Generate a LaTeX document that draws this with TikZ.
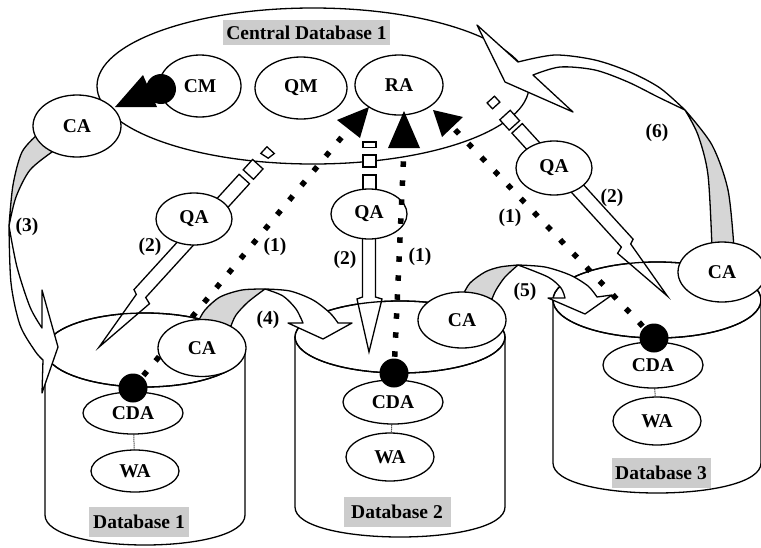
\documentclass[tikz,border=0pt]{standalone}
\usepackage{fontspec}
\setmainfont{Liberation Serif}
\usetikzlibrary{shapes.geometric}
\definecolor{labelgray}{RGB}{204,204,204}
\definecolor{bandgray}{RGB}{214,214,214}
\newcommand\bfnt{\fontsize{19.5}{21}\selectfont\bfseries}
\begin{document}
\begin{tikzpicture}[x=1pt,y=-1pt,
  ov/.style={draw, ellipse, fill=white, line width=1.3pt, inner sep=0pt, font=\bfnt},
  dblbl/.style={fill=labelgray, inner sep=0pt, minimum height=30pt, font=\bfnt},
  num/.style={font=\bfnt, inner sep=0pt},
  ln/.style={line width=1.3pt},
  hollow/.style={draw, fill=white, line width=1.3pt, line join=miter},
  band/.style={draw, fill=white, line width=1.3pt, line join=round},
  bandback/.style={draw, fill=bandgray, line width=1.3pt, line join=round},
  dotline/.style={line width=5.5pt, dash pattern=on 0.01pt off 19pt, line cap=rect},
  link/.style={line width=1pt, densely dotted}]

\useasboundingbox (0,0) rectangle (761,547);

% ---------- central database ----------
\node[ov, minimum width=432pt, minimum height=156pt] (cdb) at (313,86) {};
\node[dblbl, minimum width=167pt, minimum height=25pt] (cdbl) at (306.5,32.5) {Central Database 1};
\node[ov, minimum width=82pt, minimum height=62pt] (cm) at (200,86) {CM};
\node[ov, minimum width=92pt, minimum height=62pt] (qm) at (301,88) {QM};
\node[ov, minimum width=88pt, minimum height=60pt] (ra) at (399,85) {RA};
% CM -> CA blob
\fill (161,89) circle [radius=15];
\fill (143,75) -- (115,107) -- (157,107) -- cycle;

% ---------- database cylinders ----------
\draw[ln, fill=white] (45,350) -- (45,515) .. controls (45,555) and (245,555) .. (245,515) -- (245,350);
\draw[ln, fill=white] (145,350) ellipse [x radius=100, y radius=37];
\draw[ln, fill=white] (295,337) -- (295,507) .. controls (295,547) and (505,547) .. (505,507) -- (505,337);
\draw[ln, fill=white] (400,337) ellipse [x radius=105, y radius=36];
\draw[ln, fill=white] (553,300) -- (553,463) .. controls (553,503) and (761,503) .. (761,463) -- (761,300);
\draw[ln, fill=white] (657,300) ellipse [x radius=104, y radius=38];

\node[ov, minimum width=100pt, minimum height=42pt] (cda1) at (133,413) {CDA};
\node[ov, minimum width=88pt, minimum height=42pt] (wa1) at (135,471) {WA};
\node[ov, minimum width=100pt, minimum height=44pt] (cda2) at (393,402) {CDA};
\node[ov, minimum width=88pt, minimum height=48pt] (wa2) at (390,457) {WA};
\node[ov, minimum width=100pt, minimum height=46pt] (cda3) at (653,365) {CDA};
\node[ov, minimum width=88pt, minimum height=48pt] (wa3) at (657,421) {WA};
\draw[link] (cda1) -- (wa1);
\draw[link] (cda2) -- (wa2);
\draw[link] (cda3) -- (wa3);
\node[dblbl, minimum width=100pt] (db1l) at (139,522) {Database 1};
\node[dblbl, minimum width=107pt] (db2l) at (397,512) {Database 2};
\node[dblbl, minimum width=99pt] (db3l) at (661,473) {Database 3};

% ---------- (2) hollow arrows QA -> databases ----------
% QA1
\draw[hollow] (206.8,209.7) -- (217.1,219.2) -- (249.5,183.7) -- (239.1,174.3) -- cycle;
\draw[hollow] (243.2,169.8) -- (253.5,179.3) -- (263.0,168.9) -- (252.6,159.5) -- cycle;
\draw[hollow] (260.8,153.4) -- (268.2,158.2) -- (274.3,153.5) -- (266.9,146.8) -- cycle;
\draw[hollow] (193.3,224.5) -- (134.0,289.6) -- (136.3,294.4) -- (99.1,347.0) -- (149.5,303.7) -- (145.7,297.5) -- (203.7,233.9) -- cycle;
% QA2
\draw[hollow] (363,175) rectangle (376,195);
\draw[hollow] (363,155) rectangle (376,167);
\draw[hollow] (363,142) rectangle (376,147.5);
\draw[hollow] (362.5,225) -- (362.5,297) -- (357,299) -- (369,352) -- (382,299) -- (375.5,297) -- (375.5,225) -- cycle;
% QA3
\draw[hollow] (551.3,155.4) -- (540.9,164.9) -- (511.9,133.1) -- (522.3,123.6) -- cycle;
\draw[hollow] (519.6,120.7) -- (509.2,130.1) -- (499.8,119.8) -- (510.2,110.3) -- cycle;
\draw[hollow] (499.9,102.1) -- (492.5,108.8) -- (487.1,102.9) -- (494.5,96.2) -- cycle;
\draw[hollow] (567.7,167.5) -- (633.1,239.2) -- (630.7,244.0) -- (667.3,296.0) -- (617.6,253.3) -- (621.4,247.1) -- (557.4,176.9) -- cycle;

% database tops shown over the hollow arrows
\draw[ln] (145,350) ellipse [x radius=100, y radius=37];
\draw[ln] (400,337) ellipse [x radius=105, y radius=36];
\draw[ln] (657,300) ellipse [x radius=104, y radius=38];

% ---------- curved ribbon arrows ----------
% (3)
\draw[bandback] plot[smooth] coordinates {(38,134) (22,152) (13,185) (9,226)}
  -- plot[smooth] coordinates {(9,226) (16,197) (30,170) (52,152)} -- cycle;
\draw[band] plot[smooth] coordinates {(9,226) (11,283) (20,325) (35,351) (43,360)}
  -- (42,393) -- (58,347) -- (42,290) -- (42,328)
  -- plot[smooth] coordinates {(42,328) (30,307) (17,267) (9,226)} -- cycle;
% (4)
\draw[bandback] plot[smooth] coordinates {(198,322) (205,310) (220,297) (242,290) (265,289)}
  -- plot[smooth] coordinates {(265,289) (248,302) (236,315) (231,326)} -- cycle;
\draw[band] plot[smooth] coordinates {(265,289) (290,291) (313,300) (330,313) (338,323)}
  -- (352,323) -- (323,339) -- (288,323) -- (303,323)
  -- plot[smooth] coordinates {(303,323) (296,309) (283,296) (265,289)} -- cycle;
% (5)
\draw[bandback] plot[smooth] coordinates {(463,295) (470,283) (485,272) (500,267) (518,265)}
  -- plot[smooth] coordinates {(518,265) (505,277) (496,290) (492,299)} -- cycle;
\draw[band] plot[smooth] coordinates {(518,265) (545,267) (570,275) (588,286) (597,297)}
  -- (612,295) -- (585,314) -- (548,298) -- (565,298)
  -- plot[smooth] coordinates {(565,298) (561,288) (548,277) (518,265)} -- cycle;
% (6)
\draw[bandback] plot[smooth] coordinates {(685,110) (712,145) (728,190) (734,248)}
  -- plot[smooth] coordinates {(712,248) (708,175) (698,135) (685,110)} -- cycle;
\draw[band] plot[smooth] coordinates {(685,110) (660,88) (630,72) (595,60) (555,55) (518,62)}
  -- (477,25) -- (505,82) -- (573,112) -- (533,75)
  -- plot[smooth] coordinates {(533,75) (560,67) (595,70) (628,82) (658,97) (685,110)} -- cycle;

% ---------- QA nodes ----------
\node[ov, minimum width=76pt, minimum height=52pt] (qa1) at (194,219) {QA};
\node[ov, minimum width=76pt, minimum height=50pt] (qa2) at (369,214) {QA};
\node[ov, minimum width=76pt, minimum height=54pt] (qa3) at (554,168) {QA};

% ---------- (1) dotted links to RA ----------
\coordinate (d1) at (133,388);
\coordinate (d2) at (394,373);
\coordinate (d3) at (654,338);
\coordinate (b1) at (348.5,129);
\coordinate (b2) at (404,148);
\coordinate (b3) at (452.5,127);
\draw[dotline] (d1) -- (b1);
\draw[dotline] (d2) -- (b2);
\draw[dotline] (d3) -- (b3);
\fill (369,107) -- (337,120) -- (360,138) -- cycle;
\fill (404,111) -- (388,148) -- (420,148) -- cycle;
\fill (433,110) -- (442,137) -- (463,117) -- cycle;
\fill (d1) circle [radius=14.5];
\fill (d2) circle [radius=14.5];
\fill (d3) circle [radius=14.5];

% ---------- CA nodes ----------
\node[ov, minimum width=88pt, minimum height=62pt] (catop) at (77,126) {CA};
\node[ov, minimum width=88pt, minimum height=57pt] (ca1) at (202,348) {CA};
\node[ov, minimum width=88pt, minimum height=56pt] (ca2) at (462,320) {CA};
\node[ov, minimum width=88pt, minimum height=60pt] (ca3) at (722,272) {CA};

% ---------- numbers ----------
\node[num] (n1a) at (275,247) {(1)};
\node[num] (n1b) at (420,257) {(1)};
\node[num] (n1c) at (510,218) {(1)};
\node[num] (n2a) at (150,247) {(2)};
\node[num] (n2b) at (345,260) {(2)};
\node[num] (n2c) at (612,198) {(2)};
\node[num] (n3) at (27,227) {(3)};
\node[num] (n4) at (268,320) {(4)};
\node[num] (n5) at (525,292) {(5)};
\node[num] (n6) at (657,133) {(6)};
\end{tikzpicture}
\end{document}
